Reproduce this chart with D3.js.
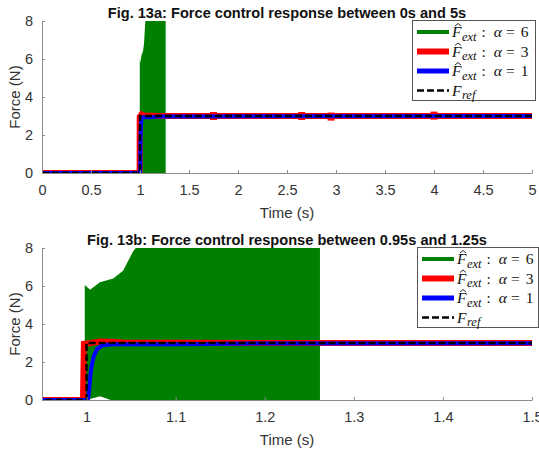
<!DOCTYPE html>
<html lang="en">
<head>
<meta charset="UTF-8">
<script src="https://cdn.jsdelivr.net/npm/d3@7/dist/d3.min.js"></script>
<title>Force control response</title>
<style>
  body { margin: 0; background: #fff; }
</style>
</head>
<body>
<script>
// data
var refT = [0, 1.0, 1.0, 5];
var refV = [0, 0, 3, 3];

var redT = [0, 0.996, 0.997, 1.005, 1.015, 1.025, 1.04, 1.2, 5];
var redV = [0, 0, 2.95, 3.0, 3.08, 3.06, 3.02, 3.0, 3.0];
var redMarkT = [1.75, 2.65, 2.95, 4.0];
var redMarkV = [3.0, 3.0, 2.97, 3.02];

var blueT = [0, 1.0015, 1.003, 1.005, 1.008, 1.012, 1.018, 1.03, 1.1, 1.2, 5];
var blueV = [0, 0, 0.6, 1.6, 2.3, 2.7, 2.88, 2.93, 2.93, 2.98, 3.0];

// alpha = 6: oscillation envelope (clipped at top of axes)
var greenT  = [0.998, 1.004, 1.015, 1.03, 1.041, 1.052, 1.06, 1.262];
var greenHi = [6.05, 5.8, 6.2, 6.4, 6.8, 7.8, 8.3, 8.3];
var greenLo = [0.3, 0.05, 0.2, -0.05, -0.05, -0.05, -0.05, -0.05];

var yTicks = [0, 2, 4, 6, 8];
var ticksA = [0, 0.5, 1, 1.5, 2, 2.5, 3, 3.5, 4, 4.5, 5];
var ticksB = [1, 1.1, 1.2, 1.3, 1.4, 1.5];

var legendLabels = [
  {color: "#007f00", width: 4, sub: "ext", rest: "6", hat: true},
  {color: "#ff0000", width: 6, sub: "ext", rest: "3", hat: true},
  {color: "#0000ff", width: 5, sub: "ext", rest: "1", hat: true},
  {color: "#000", width: 2.5, sub: "ref", rest: null, hat: false, dash: "7,3"}
];

var SANS = "'Liberation Sans', Arial, Helvetica, sans-serif";
var SERIF = "'Liberation Serif', 'Times New Roman', serif";

var W = 539, H = 450;
var svg = d3.select("body").append("svg").attr("width", W).attr("height", H)
  .attr("font-family", SANS);

function pts(T, V) { return T.map(function(t, i){ return [t, V[i]]; }); }

function panel(id, top, domain, ticks, title, legendX, legendW) {
  var x = d3.scaleLinear().domain(domain).range([42, 532]);
  var y = d3.scaleLinear().domain([0, 8]).range([top + 152, top]);
  var g = svg.append("g");

  g.append("clipPath").attr("id", "clip" + id)
    .append("rect").attr("x", 42).attr("y", top).attr("width", 490).attr("height", 152);

  var plot = g.append("g").attr("clip-path", "url(#clip" + id + ")");

  var area = d3.area().x(function(d){ return x(d[0]); })
    .y0(function(d){ return y(d[2]); }).y1(function(d){ return y(d[1]); });
  plot.append("path")
    .datum(greenT.map(function(t, i){ return [t, greenHi[i], greenLo[i]]; }))
    .attr("d", area).attr("fill", "#007f00");

  var line = d3.line().x(function(d){ return x(d[0]); }).y(function(d){ return y(d[1]); });
  plot.append("path").datum(pts(redT, redV)).attr("d", line)
    .attr("fill", "none").attr("stroke", "#ff0000").attr("stroke-width", 6);
  plot.selectAll(".rm").data(pts(redMarkT, redMarkV)).enter().append("rect")
    .attr("x", function(d){ return x(d[0]) - 3.5; })
    .attr("y", function(d){ return y(d[1]) - 4; })
    .attr("width", 7).attr("height", 8).attr("fill", "#ff0000");
  plot.append("path").datum(pts(blueT, blueV)).attr("d", line)
    .attr("fill", "none").attr("stroke", "#0000ff").attr("stroke-width", 4);
  plot.append("path").datum(pts(refT, refV)).attr("d", line)
    .attr("fill", "none").attr("stroke", "#000").attr("stroke-width", 2.5)
    .attr("stroke-dasharray", "7,3");

  // axes (MATLAB style, ticks inward)
  var xa = g.append("g").attr("transform", "translate(0," + (top + 152) + ")")
    .call(d3.axisBottom(x).tickValues(ticks).tickSizeInner(-3).tickSizeOuter(0)
      .tickFormat(function(d){ return String(+d.toFixed(2)); }));
  var ya = g.append("g").attr("transform", "translate(42,0)")
    .call(d3.axisLeft(y).tickValues(yTicks).tickSizeInner(-3).tickSizeOuter(0));
  [xa, ya].forEach(function(a){
    a.attr("font-family", SANS);
    a.select(".domain").attr("stroke", "#8c8c8c");
    a.selectAll(".tick line").attr("stroke", "#8c8c8c");
    a.selectAll("text").attr("fill", "#333").attr("font-size", 14.5);
  });
  xa.selectAll("text").attr("y", 22).attr("dy", 0);
  ya.selectAll("text").attr("x", -9);

  g.append("text").attr("x", 287).attr("y", top - 3.5).attr("text-anchor", "middle")
    .attr("font-weight", "bold").attr("font-size", 14.6).attr("fill", "#111").text(title);
  g.append("text").attr("x", 287).attr("y", top + 197).attr("text-anchor", "middle")
    .attr("font-size", 15).attr("fill", "#333").text("Time (s)");
  g.append("text").attr("transform", "translate(20," + (top + 76) + ") rotate(-90)")
    .attr("text-anchor", "middle").attr("font-size", 15).attr("fill", "#333").text("Force (N)");

  // legend
  var lg = g.append("g").attr("transform", "translate(" + legendX + "," + (top - 1) + ")");
  lg.append("rect").attr("x", 0.5).attr("y", 0.5).attr("width", legendW).attr("height", 80)
    .attr("fill", "#fff").attr("stroke", "#555").attr("stroke-width", 1);
  legendLabels.forEach(function(d, i){
    var cy = 12 + i * 19.5;
    lg.append("line").attr("x1", 5).attr("x2", 37).attr("y1", cy).attr("y2", cy)
      .attr("stroke", d.color).attr("stroke-width", d.width)
      .attr("stroke-dasharray", d.dash || null);
    if (d.hat) {
      lg.append("path")
        .attr("d", "M" + 43 + "," + (cy - 6) + " L" + 46 + "," + (cy - 8.5) + " L" + 49 + "," + (cy - 6))
        .attr("fill", "none").attr("stroke", "#111").attr("stroke-width", 0.9);
    }
    var t = lg.append("text").attr("x", 40).attr("y", cy + 5)
      .attr("font-family", SERIF).attr("font-size", 15.5).attr("fill", "#111");
    t.append("tspan").attr("font-style", "italic").text("F");
    t.append("tspan").attr("font-style", "italic").attr("font-size", 12.5)
      .attr("dy", 3.5).attr("dx", 0.5).text(d.sub);
    if (d.rest) {
      t.append("tspan").attr("dy", -3.5).attr("dx", 5).text(":");
      t.append("tspan").attr("dx", 8).attr("font-style", "italic").text("α");
      t.append("tspan").attr("dx", 4).text("=");
      t.append("tspan").attr("dx", 6).text(d.rest);
    }
  });
}

panel("a", 21, [0, 5], ticksA, "Fig. 13a: Force control response between 0s and 5s", 412, 123);
panel("b", 248, [0.95, 1.5], ticksB, "Fig. 13b: Force control response between 0.95s and 1.25s", 417, 121);
</script>
</body>
</html>
